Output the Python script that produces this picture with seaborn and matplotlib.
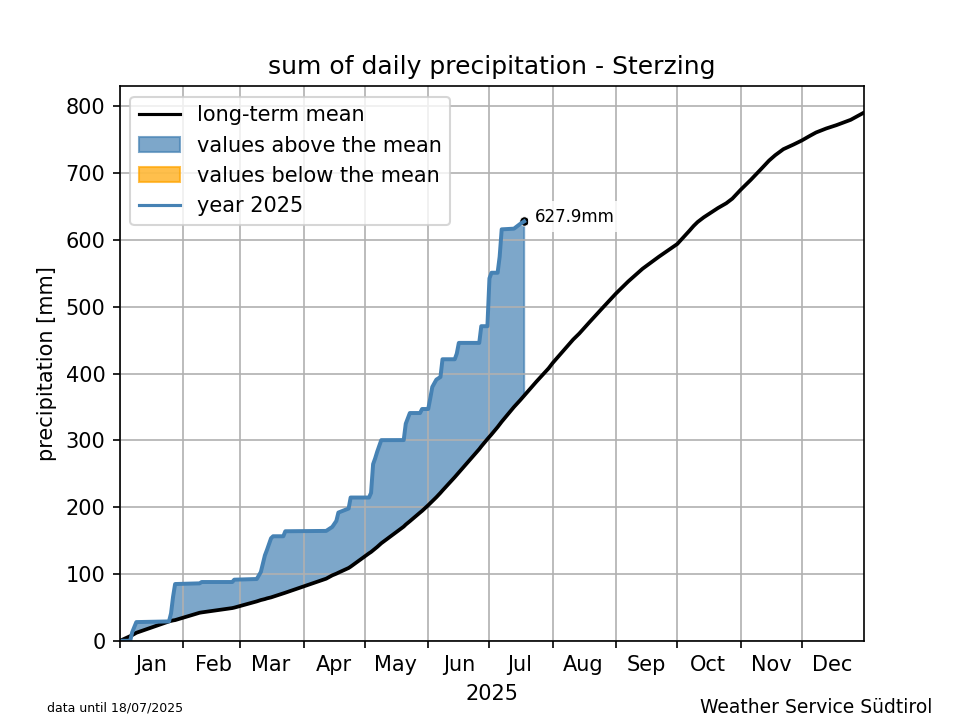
import matplotlib
matplotlib.use('Agg')
import matplotlib.dates as mdates
import matplotlib.pyplot as plt
import numpy as np
import pandas as pd
import seaborn as sns

title = 'sum of daily precipitation - Sterzing'
start_date = '2025-01-01'
end_date = '2025-12-31 12:00'

# days counted from 1 January, values in mm
year_days = [0, 5, 6, 8, 24, 25, 26, 27, 39, 40, 55, 56, 67, 69, 71, 72, 74, 75, 80, 81,
             101, 104, 106, 107, 112, 113, 122, 123, 124, 125, 126, 128, 139, 140, 142,
             147, 148, 151, 152, 153, 155, 157, 158, 164, 165, 166, 176, 177, 180, 181,
             182, 185, 186, 187, 193, 196, 198]
year_values = [0, 0, 13, 28, 29, 41, 66, 85, 86, 88, 88, 91.5, 92.5, 103, 128, 136, 153.5, 156.5, 156.5, 164,
               164.5, 170.5, 179.5, 192, 198, 214.5, 214.5, 221.5, 264.5, 273, 283, 300.4, 300.5, 325, 341,
               341, 347, 347, 363, 380, 391, 395, 421.5, 421.5, 430, 446, 446, 471, 471, 542.6,
               551, 551, 575, 616, 617, 624, 627.9]
# long-term mean on the same days as the year
mean_values = [0, 7, 8.5, 12, 29, 29.8, 30.5, 31, 42, 42.5, 49, 49.7, 59, 61, 62.5, 63.5, 65, 66, 71, 72,
               93, 98, 100.5, 102, 109, 111, 131, 133, 135.5, 138, 140.5, 146, 171, 174, 179,
               192, 194.5, 203, 206, 209, 215, 221.5, 225, 245, 248.5, 252, 287, 291, 302, 305.5,
               309, 320, 324, 328, 350, 360, 367]
# rest of the long-term mean
later_days = [204, 210, 212, 220, 222, 225, 230, 236, 243, 249, 256, 264, 273, 276, 279, 281, 283, 286, 290, 293,
              297, 300, 304, 309, 314, 318, 321, 325, 330, 334, 338, 341, 346, 351, 358, 364]
later_values = [388, 408, 416, 444, 451, 460, 477, 497, 520, 538, 557, 575, 594, 604, 614, 621, 627, 634, 642, 648,
                655, 662, 675, 690, 706, 719, 727, 736, 743, 749, 756, 761, 767, 772, 780, 790]


def to_dates(days):
    return pd.Timestamp(start_date) + pd.to_timedelta(days, unit='D')


year_dates = to_dates(year_days)
mean_dates = to_dates(year_days + later_days)
year = np.array(year_values)
mean = np.array(mean_values)

fig, ax = plt.subplots(figsize=(6.4, 4.8))

sns.lineplot(x=mean_dates, y=mean_values + later_values, color='black', linewidth=1.8,
             label='long-term mean', ax=ax)
ax.fill_between(year_dates, year, mean, where=year >= mean, interpolate=True,
                color='steelblue', alpha=0.7, label='values above the mean')
ax.fill_between(year_dates, year, mean, where=(year < mean) & (year > 0), interpolate=True,
                color='orange', alpha=0.7, label='values below the mean')
sns.lineplot(x=year_dates, y=year_values, color='steelblue', linewidth=1.9, label='year 2025', ax=ax)
sns.scatterplot(x=year_dates[-1:], y=year_values[-1:], color='black', s=20, ax=ax)

ax.annotate(f'{year_values[-1]}mm', (year_dates[-1], year_values[-1]), xytext=(5, -2),
            textcoords='offset points', fontsize=8, va='bottom',
            bbox=dict(facecolor='white', edgecolor='none', alpha=0.85, pad=3))

ax.set_xlim(pd.Timestamp(start_date), pd.Timestamp(end_date))
ax.set_ylim(0, 830)
ax.set_yticks(range(0, 900, 100))

# month names sit between the ticks
ax.xaxis.set_major_locator(mdates.MonthLocator())
ax.xaxis.set_major_formatter(plt.NullFormatter())
ax.xaxis.set_minor_locator(mdates.MonthLocator(bymonthday=16))
ax.xaxis.set_minor_formatter(mdates.DateFormatter('%b'))
ax.tick_params(axis='x', which='minor', length=0, pad=7)
ax.grid(True)

ax.set_title(title)
ax.set_xlabel('2025')
ax.set_ylabel('precipitation [mm]')

handles, labels = ax.get_legend_handles_labels()
order = ['long-term mean', 'values above the mean', 'values below the mean', 'year 2025']
handles = [handles[labels.index(name)] for name in order]
legend = ax.legend(handles, order, loc='upper left')
for line in legend.get_lines():
    line.set_linewidth(1.5)

fig.text(0.049, 0.0115, 'data until 18/07/2025', fontsize=6)
fig.text(0.971, 0.0097, 'Weather Service Südtirol', fontsize=9, ha='right')

fig.savefig('out.png', dpi=150)
